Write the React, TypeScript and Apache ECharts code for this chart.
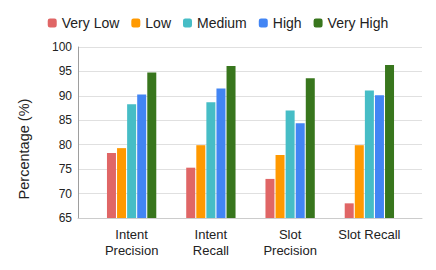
import React, { useEffect, useRef } from "react";
import * as echarts from "echarts";

const categories = ["Intent\nPrecision", "Intent\nRecall", "Slot\nPrecision", "Slot Recall"];
const seriesNames = ["Very Low", "Low", "Medium", "High", "Very High"];
const veryLow = [78.3, 75.3, 73.0, 68.0];
const low = [79.3, 79.9, 77.9, 79.9];
const medium = [88.3, 88.7, 87.0, 91.1];
const high = [90.3, 91.5, 84.4, 90.1];
const veryHigh = [94.8, 96.1, 93.6, 96.3];
const colors = ["#e06666", "#ff9900", "#46bdc6", "#4285f4", "#38761d"];
const yAxisTitle = "Percentage (%)";

const FONT = "'Liberation Sans', Arial, sans-serif";

export default function App() {
  const ref = useRef<HTMLDivElement>(null);
  useEffect(() => {
    if (!ref.current) return;
    const chart = echarts.init(ref.current, undefined, { renderer: "svg" });
    const data = [veryLow, low, medium, high, veryHigh];
    chart.setOption({
      animation: false,
      textStyle: { fontFamily: FONT },
      legend: {
        top: 11,
        left: "center",
        itemWidth: 9,
        itemHeight: 9,
        itemGap: 12,
        icon: "roundRect",
        textStyle: { fontSize: 14, color: "#222", fontFamily: FONT },
        data: seriesNames,
      },
      grid: [
        { left: 78, right: 14, top: 47, bottom: 52 },
        { left: 92, right: 27, top: 47, bottom: 52 },
      ],
      xAxis: [
        {
          gridIndex: 0,
          type: "category",
          data: categories,
          axisLine: { lineStyle: { color: "#cccccc" } },
          axisTick: { show: false },
          axisLabel: { show: false },
        },
        {
          gridIndex: 1,
          type: "category",
          data: categories,
          axisLine: { show: false },
          axisTick: { show: false },
          axisLabel: { fontSize: 13, color: "#222", lineHeight: 16, margin: 8, interval: 0, fontFamily: FONT },
        },
      ],
      yAxis: [
        {
          gridIndex: 0,
          type: "value",
          min: 65,
          max: 100,
          interval: 5,
          axisLine: { show: true, lineStyle: { color: "#9e9e9e" } },
          axisLabel: { fontSize: 12, color: "#222", margin: 6, fontFamily: FONT },
          splitLine: { lineStyle: { color: "#e0e0e0" } },
        },
        {
          gridIndex: 1,
          type: "value",
          min: 65,
          max: 100,
          interval: 5,
          axisLine: { show: false },
          axisLabel: { show: false },
          splitLine: { show: false },
        },
      ],
      graphic: [
        {
          type: "text",
          x: 24,
          y: 149,
          rotation: Math.PI / 2,
          style: {
            text: yAxisTitle,
            fontSize: 14.5,
            fontFamily: FONT,
            fill: "#222",
            textAlign: "center",
            textVerticalAlign: "middle",
          },
        },
      ],
      series: data.map((d, i) => ({
        name: seriesNames[i],
        type: "bar",
        xAxisIndex: 1,
        yAxisIndex: 1,
        data: d,
        barWidth: 9,
        barGap: "12%",
        itemStyle: { color: colors[i] },
      })),
    });
    return () => chart.dispose();
  }, []);
  return <div ref={ref} style={{ width: 436, height: 270, position: "absolute", left: 0, top: 0 }} />;
}
